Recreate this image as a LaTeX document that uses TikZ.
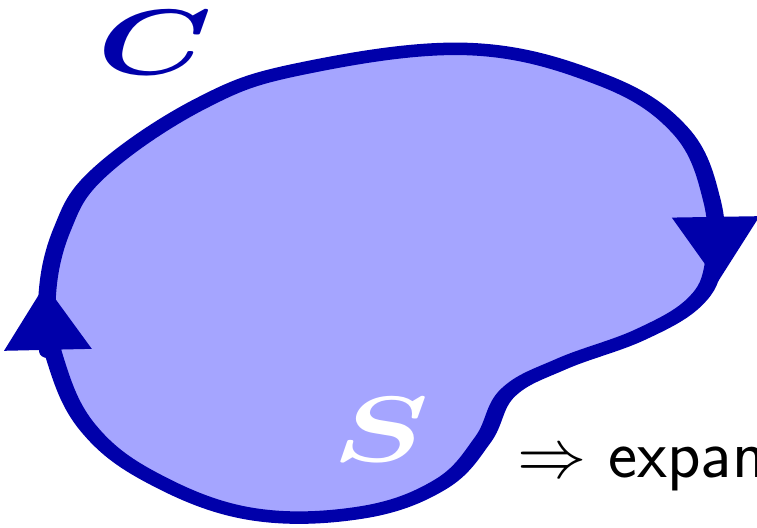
\documentclass[tikz,border=0pt]{standalone}
\usepackage{fix-cm}
\usepackage{amsmath}
\usetikzlibrary{arrows.meta}
\definecolor{curvecol}{RGB}{0,0,170}
\definecolor{surfcol}{RGB}{165,165,255}
\tikzset{
  rim/.style={draw=curvecol, line width=0.125cm},
  flow/.style={curvecol, line width=0.125cm, -{Triangle[width=0.59cm, length=0.66cm]}},
  biglabel/.style={inner sep=0pt, font=\fontsize{26.4}{30}\selectfont}
}
\begin{document}
\begin{tikzpicture}[line join=round, line cap=round]
	\useasboundingbox (0,0) rectangle (7.57,-5.27);
	\begin{scope}[x=0.007143cm, y=-0.01cm, transform canvas={xscale=1.4}]
		\filldraw[rim, fill=surfcol] plot[smooth cycle, tension=0.65] coordinates {
			(47,300) (62,230) (100,172) (200,104) (300,69) (467,49) (600,79)
			(680,130) (712,200) (714,262) (695,302) (640,335) (562,364)
			(508,393) (483,440) (440,485) (360,513) (250,514) (152,478)
			(88,428) (56,362)};
		\coordinate (upA) at (48,352);
		\coordinate (upB) at (45,284);
		\coordinate (dnA) at (716,220);
		\coordinate (dnB) at (718,283);
		\draw[flow] (upA) -- (upB);
		\draw[flow] (dnA) -- (dnB);
		\node[biglabel, text=curvecol] (lblC) at (155,43) {$\boldsymbol{C}$};
		\node[biglabel, text=white] (lblS) at (381,430) {$\boldsymbol{S}$};
	\end{scope}
	\node[anchor=base west, inner sep=0pt, font=\fontsize{19.7}{24}\selectfont\sffamily] (expan) at (5.17,-4.77) {$\Rightarrow$ expan};
\end{tikzpicture}
\end{document}
